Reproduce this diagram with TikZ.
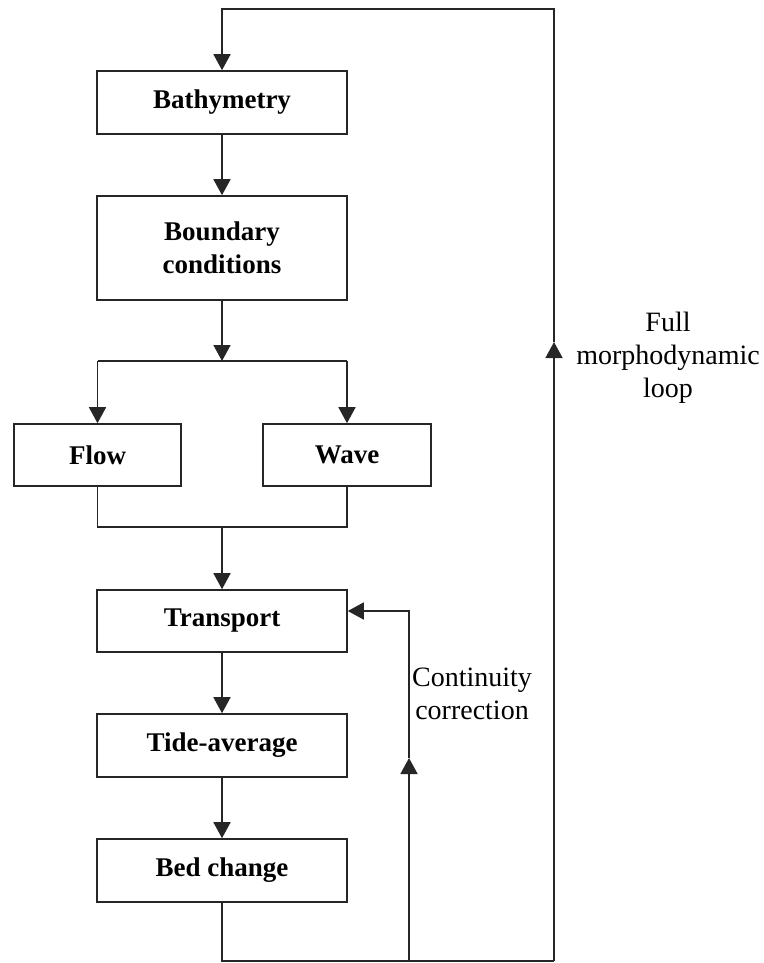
\documentclass[tikz,border=0pt]{standalone}
\usepackage{fontspec}
\setmainfont{Liberation Serif}
\usetikzlibrary{arrows.meta}
\begin{document}
\begin{tikzpicture}[x=1pt,y=-1pt,
  box/.style={draw=black!85, line width=1.6pt, minimum width=250pt, inner sep=0pt, align=center,
    font=\fontsize{27}{33}\selectfont\bfseries},
  lab/.style={align=center, inner sep=0pt, font=\fontsize{28}{33}\selectfont},
  conn/.style={draw=black!85, line width=1.6pt},
  arr/.style={conn, -{Triangle[width=17pt,length=16pt]}}]
\useasboundingbox (0,0) rectangle (763,963);
\node[box, minimum height=63pt] (bath) at (222,102.5) {Bathymetry};
\node[box, minimum height=104pt] (bc) at (222,248) {Boundary\\conditions};
\node[box, minimum width=167pt, minimum height=62pt] (flow) at (97.5,455) {Flow};
\node[box, minimum width=168pt, minimum height=62pt] (wave) at (347,455) {Wave};
\node[box, minimum height=62pt] (trans) at (222,621) {Transport};
\node[box, minimum height=63pt] (tide) at (222,745.5) {Tide-average};
\node[box, minimum height=63pt] (bed) at (222,870.5) {Bed change};
\node[lab] (cont) at (472,694) {Continuity\\correction};
\node[lab] (full) at (668,358) {Full\\morphodynamic\\loop};
\coordinate (split) at (222,361);
\coordinate (splitL) at (97.5,361);
\coordinate (splitR) at (347,361);
\coordinate (merge) at (222,527);
\coordinate (mergeL) at (97.5,527);
\coordinate (mergeR) at (347,527);
\coordinate (bot) at (222,961);
\coordinate (cb) at (409,961);
\coordinate (ct) at (409,611);
\coordinate (fb) at (554,961);
\coordinate (ft) at (554,9);
\coordinate (tl) at (222,9);
\coordinate (cmid) at (409,758);
\coordinate (fmid) at (554,342);
% main chain
\draw[arr] (bath) -- (bc);
\draw[arr] (bc) -- (split);
\draw[conn] (splitL) -- (splitR);
\draw[arr] (splitL) -- (flow);
\draw[arr] (splitR) -- (wave);
\draw[conn] (flow.south) -- (mergeL) -- (mergeR) -- (wave.south);
\draw[arr] (merge) -- (trans);
\draw[arr] (trans) -- (tide);
\draw[arr] (tide) -- (bed);
% loops
\draw[conn] (bed.south) -- (bot) -- (fb);
\draw[arr] (cb) -- (cmid);
\draw[arr] (cmid) -- (ct) -- (ct -| trans.east);
\draw[arr] (fb) -- (fmid);
\draw[arr] (fmid) -- (ft) -- (tl) -- (bath.north);
\end{tikzpicture}
\end{document}
